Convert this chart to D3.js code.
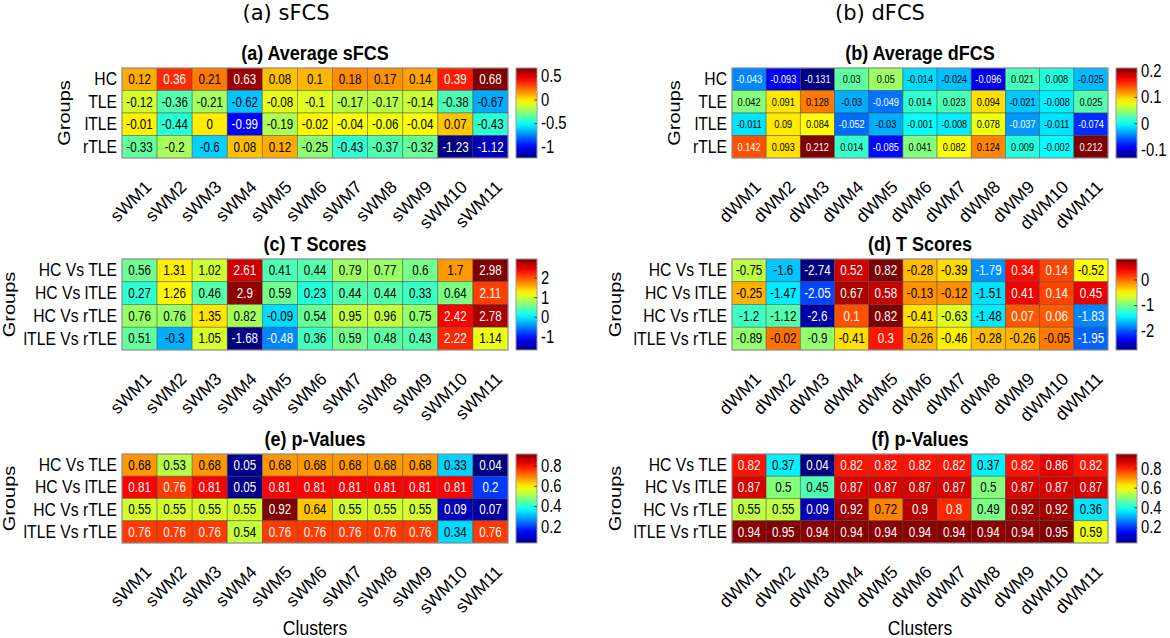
<!DOCTYPE html>
<html>
<head>
<meta charset="utf-8">
<script src="https://cdn.jsdelivr.net/npm/d3@7"></script>
<style>
  body { margin: 0; background: #fff; }
  svg { display: block; }
  text { font-family: "Liberation Sans", Arial, Helvetica, sans-serif; fill: #000; }
</style>
</head>
<body>
<script>

// --------------------------------------------------
// Data
// --------------------------------------------------

const sClusters = ['sWM1', 'sWM2', 'sWM3', 'sWM4', 'sWM5', 'sWM6', 'sWM7', 'sWM8', 'sWM9', 'sWM10', 'sWM11'];
const dClusters = ['dWM1', 'dWM2', 'dWM3', 'dWM4', 'dWM5', 'dWM6', 'dWM7', 'dWM8', 'dWM9', 'dWM10', 'dWM11'];

const groups = ['HC', 'TLE', 'lTLE', 'rTLE'];
const pairs = ['HC Vs TLE', 'HC Vs lTLE', 'HC Vs rTLE', 'lTLE Vs rTLE'];

const avgSFCS = [
    [0.12, 0.36, 0.21, 0.63, 0.08, 0.1, 0.18, 0.17, 0.14, 0.39, 0.68],
    [-0.12, -0.36, -0.21, -0.62, -0.08, -0.1, -0.17, -0.17, -0.14, -0.38, -0.67],
    [-0.01, -0.44, 0, -0.99, -0.19, -0.02, -0.04, -0.06, -0.04, 0.07, -0.43],
    [-0.33, -0.2, -0.6, 0.08, 0.12, -0.25, -0.43, -0.37, -0.32, -1.23, -1.12]
];

const avgDFCS = [
    [-0.043, -0.093, -0.131, 0.03, 0.05, -0.014, -0.024, -0.096, 0.021, 0.008, -0.025],
    [0.042, 0.091, 0.128, -0.03, -0.049, 0.014, 0.023, 0.094, -0.021, -0.008, 0.025],
    [-0.011, 0.09, 0.084, -0.052, -0.03, -0.001, -0.008, 0.078, -0.037, -0.011, -0.074],
    [0.142, 0.093, 0.212, 0.014, -0.085, 0.041, 0.082, 0.124, 0.009, -0.002, 0.212]
];

const tScoresS = [
    [0.56, 1.31, 1.02, 2.61, 0.41, 0.44, 0.79, 0.77, 0.6, 1.7, 2.98],
    [0.27, 1.26, 0.46, 2.9, 0.59, 0.23, 0.44, 0.44, 0.33, 0.64, 2.11],
    [0.76, 0.76, 1.35, 0.82, -0.09, 0.54, 0.95, 0.96, 0.75, 2.42, 2.78],
    [0.51, -0.3, 1.05, -1.68, -0.48, 0.36, 0.59, 0.48, 0.43, 2.22, 1.14]
];

const tScoresD = [
    [-0.75, -1.6, -2.74, 0.52, 0.82, -0.28, -0.39, -1.79, 0.34, 0.14, -0.52],
    [-0.25, -1.47, -2.05, 0.67, 0.58, -0.13, -0.12, -1.51, 0.41, 0.14, 0.45],
    [-1.2, -1.12, -2.6, 0.1, 0.82, -0.41, -0.63, -1.48, 0.07, 0.06, -1.83],
    [-0.89, -0.02, -0.9, -0.41, 0.3, -0.26, -0.46, -0.28, -0.26, -0.05, -1.95]
];

const pValuesS = [
    [0.68, 0.53, 0.68, 0.05, 0.68, 0.68, 0.68, 0.68, 0.68, 0.33, 0.04],
    [0.81, 0.76, 0.81, 0.05, 0.81, 0.81, 0.81, 0.81, 0.81, 0.81, 0.2],
    [0.55, 0.55, 0.55, 0.55, 0.92, 0.64, 0.55, 0.55, 0.55, 0.09, 0.07],
    [0.76, 0.76, 0.76, 0.54, 0.76, 0.76, 0.76, 0.76, 0.76, 0.34, 0.76]
];

const pValuesD = [
    [0.82, 0.37, 0.04, 0.82, 0.82, 0.82, 0.82, 0.37, 0.82, 0.86, 0.82],
    [0.87, 0.5, 0.45, 0.87, 0.87, 0.87, 0.87, 0.5, 0.87, 0.87, 0.87],
    [0.55, 0.55, 0.09, 0.92, 0.72, 0.9, 0.8, 0.49, 0.92, 0.92, 0.36],
    [0.94, 0.95, 0.94, 0.94, 0.94, 0.94, 0.94, 0.94, 0.94, 0.95, 0.59]
];

const ticksA = [0.5, 0, -0.5, -1];
const ticksB = [0.2, 0.1, 0, -0.1];
const ticksC = [2, 1, 0, -1];
const ticksD = [0, -1, -2];
const ticksP = [0.8, 0.6, 0.4, 0.2];


// --------------------------------------------------
// Helpers
// --------------------------------------------------

var svg = d3.select('body').append('svg')
    .attr('width', 1170)
    .attr('height', 638);

// MATLAB jet colormap
function jet(t) {
    t = Math.max(0, Math.min(1, t));
    let c = v => Math.round(255 * Math.max(0, Math.min(1, v)));
    let r = Math.min(4 * t - 1.5, -4 * t + 4.5);
    let g = Math.min(4 * t - 0.5, -4 * t + 3.5);
    let b = Math.min(4 * t + 0.5, -4 * t + 2.5);
    return d3.rgb(c(r), c(g), c(b));
}

function lum(col) {
    let lin = v => { v /= 255; return v <= 0.04045 ? v / 12.92 : Math.pow((v + 0.055) / 1.055, 2.4); };
    return 0.2126 * lin(col.r) + 0.7152 * lin(col.g) + 0.0722 * lin(col.b);
}

// text squeezed a bit horizontally, like the original figure
function label(g, x, y, s, size, sx, rot) {
    return g.append('text')
        .attr('transform', 'translate(' + x + ',' + y + ') scale(' + sx + ',1)' + (rot ? ' rotate(' + rot + ')' : ''))
        .style('font-size', size + 'px')
        .text(s);
}

var gradCount = 0;

function heatmap(p) {

    var g = svg.append('g');

    var x = d3.scaleBand().domain(p.cols).range([p.x0, p.x1]);
    var y = d3.scaleBand().domain(p.rows).range([p.y0, p.y1]);

    var flat = p.values.flat();
    var ext = d3.extent(flat);
    var color = d3.scaleLinear().domain(ext).range([0, 1]);

    // title
    label(g, (p.x0 + p.x1) / 2, p.y0 - 8, p.title, 20, 0.9)
        .attr('text-anchor', 'middle')
        .style('font-weight', 'bold');

    // cells
    var cells = [];
    p.values.forEach((row, i) => row.forEach((v, j) => cells.push({ r: p.rows[i], c: p.cols[j], v: v })));

    g.selectAll('.cell')
        .data(cells)
        .enter().append('rect')
        .attr('class', 'cell')
        .attr('x', d => x(d.c))
        .attr('y', d => y(d.r))
        .attr('width', x.bandwidth())
        .attr('height', y.bandwidth())
        .attr('fill', d => jet(color(d.v)))
        .attr('stroke', 'rgba(70,70,70,0.55)')
        .attr('stroke-width', 0.8);

    g.selectAll('.val')
        .data(cells)
        .enter().append('text')
        .attr('class', 'val')
        .attr('transform', d => 'translate(' + (x(d.c) + x.bandwidth() / 2) + ',' + (y(d.r) + y.bandwidth() / 2 + 1) + ') scale(0.8,1)')
        .attr('text-anchor', 'middle')
        .attr('dominant-baseline', 'middle')
        .style('font-size', p.valSize + 'px')
        .style('fill', d => lum(jet(color(d.v))) < 0.31 ? '#fff' : '#000')
        .text(d => String(d.v));

    g.append('rect')
        .attr('x', p.x0).attr('y', p.y0)
        .attr('width', p.x1 - p.x0).attr('height', p.y1 - p.y0)
        .attr('fill', 'none')
        .attr('stroke', '#9a9a9a')
        .attr('stroke-width', 1);

    // row labels
    var maxW = 0;
    p.rows.forEach(r => {
        var t = label(g, p.x0 - 5, y(r) + y.bandwidth() / 2 + 1, r, 18.5, 0.85)
            .attr('text-anchor', 'end')
            .attr('dominant-baseline', 'middle');
        maxW = Math.max(maxW, t.node().getComputedTextLength() * 0.85);
    });

    var gx = Math.max(15, p.x0 - 5 - maxW - 13);
    label(g, gx, (p.y0 + p.y1) / 2, 'Groups', 20, 0.85, -90)
        .attr('text-anchor', 'middle');

    // column labels
    p.cols.forEach(c => {
        label(g, x(c) + x.bandwidth() / 2 + 13, p.y1 + 30, c, 17.5, 1, -45)
            .attr('text-anchor', 'end');
    });

    if (p.xlabel) {
        label(g, (p.x0 + p.x1) / 2, 635, 'Clusters', 19.5, 0.9)
            .attr('text-anchor', 'middle');
    }

    // colorbar
    var id = 'grad' + (gradCount++);
    var grad = svg.append('defs').append('linearGradient')
        .attr('id', id)
        .attr('x1', 0).attr('y1', 1).attr('x2', 0).attr('y2', 0);
    d3.range(0, 1.0001, 0.05).forEach(t => {
        grad.append('stop').attr('offset', t).attr('stop-color', jet(t));
    });

    var cy = d3.scaleLinear().domain(ext).range([p.y1, p.y0]);

    g.append('rect')
        .attr('x', p.cbx).attr('y', p.y0)
        .attr('width', p.cbw).attr('height', p.y1 - p.y0)
        .attr('fill', 'url(#' + id + ')')
        .attr('stroke', '#9a9a9a')
        .attr('stroke-width', 1);

    p.ticks.forEach(t => {
        g.append('line')
            .attr('x1', p.cbx + p.cbw - 3).attr('x2', p.cbx + p.cbw)
            .attr('y1', cy(t)).attr('y2', cy(t))
            .attr('stroke', '#333').attr('stroke-width', 0.8);
        label(g, p.cbx + p.cbw + 4, cy(t) + 1, String(t), 18.5, 0.8)
            .attr('dominant-baseline', 'middle');
    });
}


// --------------------------------------------------
// Panels
// --------------------------------------------------

var left = { x0: 122, x1: 508, cbx: 516, cbw: 21 };
var right = { x0: 732, x1: 1108, cbx: 1116, cbw: 21 };
var rowsY = [[68, 158], [259, 350], [454, 543]];

// column headings
svg.append('text')
    .attr('x', 286).attr('y', 20)
    .attr('text-anchor', 'middle')
    .style('font-family', '"DejaVu Sans", sans-serif')
    .style('font-size', '21px')
    .text('(a) sFCS');

svg.append('text')
    .attr('x', 880).attr('y', 20)
    .attr('text-anchor', 'middle')
    .style('font-family', '"DejaVu Sans", sans-serif')
    .style('font-size', '21px')
    .text('(b) dFCS');

heatmap(Object.assign({}, left, { y0: rowsY[0][0], y1: rowsY[0][1], title: '(a) Average sFCS', cols: sClusters, rows: groups, values: avgSFCS, ticks: ticksA, valSize: 14.5 }));
heatmap(Object.assign({}, right, { y0: rowsY[0][0], y1: rowsY[0][1], title: '(b) Average dFCS', cols: dClusters, rows: groups, values: avgDFCS, ticks: ticksB, valSize: 11.5 }));
heatmap(Object.assign({}, left, { y0: rowsY[1][0], y1: rowsY[1][1], title: '(c) T Scores', cols: sClusters, rows: pairs, values: tScoresS, ticks: ticksC, valSize: 14.5 }));
heatmap(Object.assign({}, right, { y0: rowsY[1][0], y1: rowsY[1][1], title: '(d) T Scores', cols: dClusters, rows: pairs, values: tScoresD, ticks: ticksD, valSize: 14.5 }));
heatmap(Object.assign({}, left, { y0: rowsY[2][0], y1: rowsY[2][1], title: '(e) p-Values', cols: sClusters, rows: pairs, values: pValuesS, ticks: ticksP, valSize: 14.5, xlabel: true }));
heatmap(Object.assign({}, right, { y0: rowsY[2][0], y1: rowsY[2][1], title: '(f) p-Values', cols: dClusters, rows: pairs, values: pValuesD, ticks: ticksP, valSize: 14.5, xlabel: true }));

</script>
</body>
</html>
